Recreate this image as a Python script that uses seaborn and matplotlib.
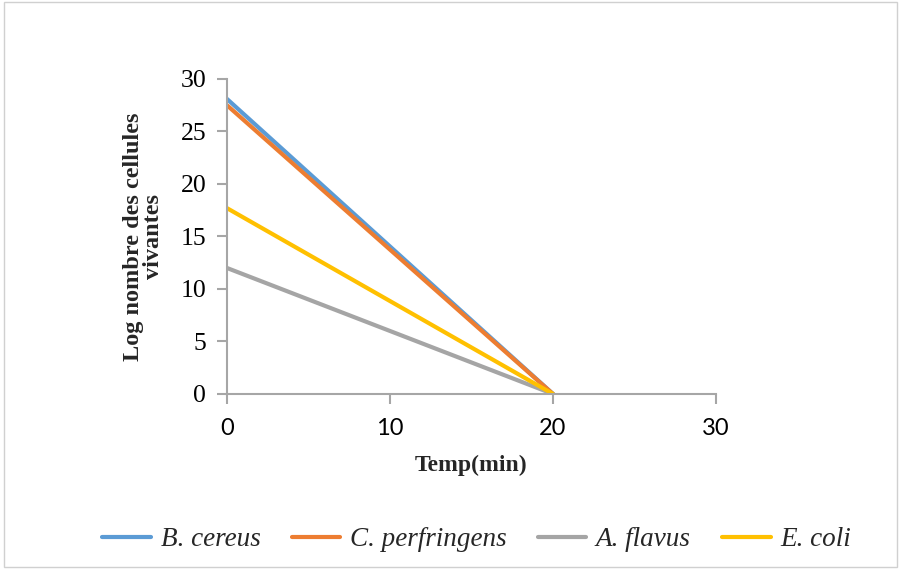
import matplotlib
matplotlib.use("Agg")
import matplotlib.pyplot as plt
import seaborn as sns
import pandas as pd
from matplotlib.patches import Rectangle
from matplotlib.lines import Line2D
from matplotlib import font_manager

species = ["B. cereus", "C. perfringens", "A. flavus", "E. coli"]
times = [0, 20]
b_cereus = [28.1, 0]
c_perfringens = [27.5, 0]
a_flavus = [12.0, 0]
e_coli = [17.7, 0]
colors = ["#5B9BD5", "#ED7D31", "#A5A5A5", "#FFC000"]
x_ticks = [0, 10, 20, 30]
y_ticks = [0, 5, 10, 15, 20, 25, 30]

rows = []
for name, vals in zip(species, [b_cereus, c_perfringens, a_flavus, e_coli]):
    for t, v in zip(times, vals):
        rows.append({"Temps": t, "Log": v, "Espèce": name})
df = pd.DataFrame(rows)

sns.set_theme(style="white")
plt.rcParams['font.family'] = ['Liberation Serif', 'DejaVu Serif']

fig = plt.figure(figsize=(9.01, 5.69), dpi=100)
ax = fig.add_axes([0.2519, 0.3076, 0.5428, 0.5536])

sns.lineplot(data=df, x="Temps", y="Log", hue="Espèce", hue_order=species,
             palette=colors, linewidth=3, ax=ax, legend=False)

ax.set_xlim(0, 30)
ax.set_ylim(0, 30)
ax.set_xticks(x_ticks)
ax.set_yticks(y_ticks)
ax.set_xticklabels([str(v) for v in x_ticks], family=["Lato", "DejaVu Sans"], fontsize=17)
ax.set_yticklabels([str(v) for v in y_ticks], family=["Liberation Serif", "DejaVu Serif"], fontsize=18.5)
for s in ["top", "right"]:
    ax.spines[s].set_visible(False)
for s in ["left", "bottom"]:
    ax.spines[s].set_color("#A6A6A6")
    ax.spines[s].set_linewidth(1.5)
ax.tick_params(axis="both", direction="out", length=7, width=1.5, color="#A6A6A6",
               labelcolor="black", left=True, bottom=True)
ax.tick_params(axis="x", pad=10)
ax.tick_params(axis="y", pad=8)
ax.set_xlabel("Temp(min)", fontsize=17, fontweight="bold",
              family=["Liberation Serif", "DejaVu Serif"], labelpad=12)
ax.set_ylabel("Log nombre des cellules\nvivantes", fontsize=17.5, fontweight="bold",
              family=["Liberation Serif", "DejaVu Serif"], labelpad=12, linespacing=0.95)
ax.grid(False)

handles = [Line2D([0], [0], color=c, lw=3) for c in colors]
leg = fig.legend(handles, species, loc="center", bbox_to_anchor=(0.529, 0.051), ncol=4,
                 frameon=False,
                 prop=font_manager.FontProperties(family=["Liberation Serif", "DejaVu Serif"],
                                                  style="italic", size=19.5),
                 handlelength=1.8, handletextpad=0.35, columnspacing=1.15)

fig.patches.append(Rectangle((0.004, 0.004), 0.992, 0.992, transform=fig.transFigure,
                             fill=False, edgecolor="#D0D0D0", linewidth=1))

fig.savefig("out.png", dpi=100)
